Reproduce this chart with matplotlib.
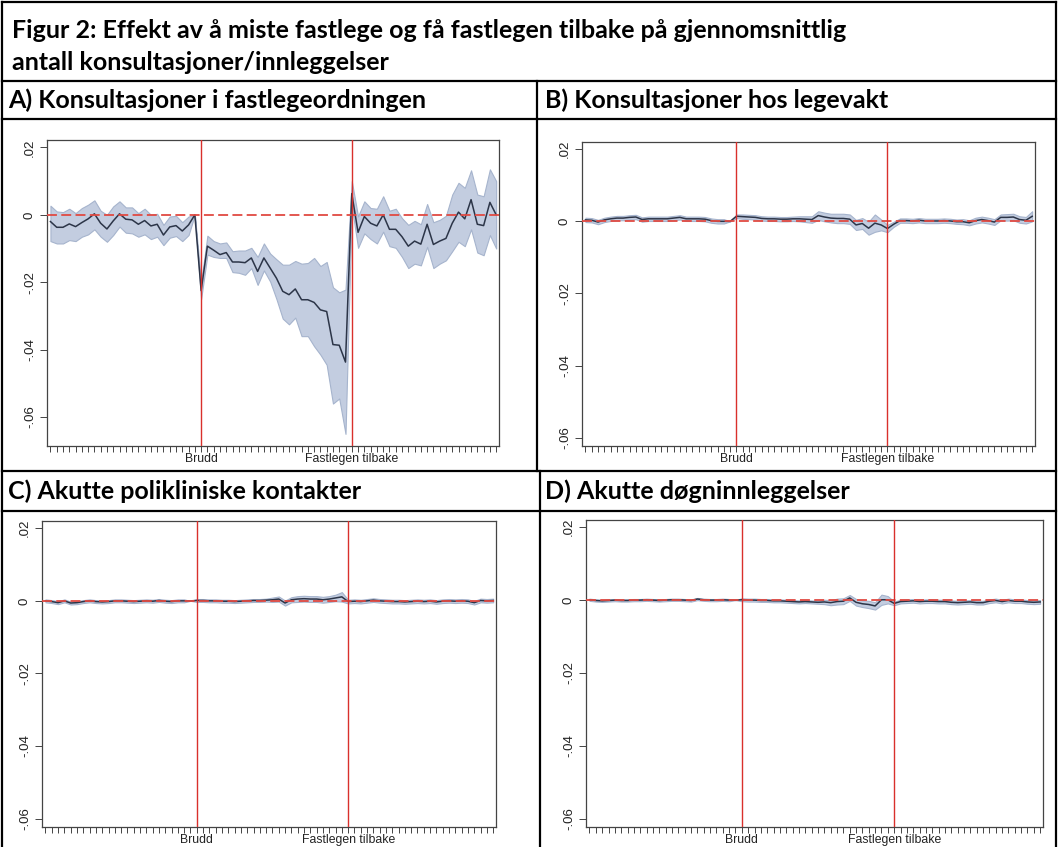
import matplotlib
matplotlib.use("Agg")
import matplotlib.pyplot as plt
from matplotlib.lines import Line2D
import numpy as np

W, H = 1059, 847

# periods: -24 .. 47, Brudd at 0, Fastlegen tilbake at 24
periods = np.arange(-24, 48)
brudd = 0
tilbake = 24

title_lines = ["Figur 2: Effekt av å miste fastlege og få fastlegen tilbake på gjennomsnittlig",
               "antall konsultasjoner/innleggelser"]
panel_titles = ["A) Konsultasjoner i fastlegeordningen", "B) Konsultasjoner hos legevakt",
                "C) Akutte polikliniske kontakter", "D) Akutte døgninnleggelser"]
ytick_vals = [0.02, 0.0, -0.02, -0.04, -0.06]
ytick_labels = [".02", "0", "-.02", "-.04", "-.06"]
xtick_labels = {0: "Brudd", 24: "Fastlegen tilbake"}

# A) estimate with lower/upper confidence limits
est_a = [-0.0020, -0.0037, -0.0037, -0.0027, -0.0035, -0.0023, -0.0012, 0.0003, -0.0025, -0.0042,
         -0.0018, 0.0003, -0.0013, -0.0015, -0.0028, -0.0017, -0.0033, -0.0028, -0.0060, -0.0036,
         -0.0032, -0.0048, -0.0030, 0.0,
         -0.0225, -0.0093, -0.0105, -0.0118, -0.0112, -0.0140, -0.0140, -0.0142, -0.0128, -0.0168,
         -0.0128, -0.0158, -0.0188, -0.0227, -0.0237, -0.0220, -0.0252, -0.0252, -0.0260, -0.0282,
         -0.0287, -0.0385, -0.0387, -0.0437,
         0.0063, -0.0052, -0.0005, -0.0025, -0.0033, 0.0, -0.0043, -0.0043, -0.0065, -0.0093,
         -0.0078, -0.0087, -0.0028, -0.0088, -0.0078, -0.0070, -0.0025, 0.0008, -0.0012, 0.0045,
         -0.0028, -0.0032, 0.0037, 0.0]
hi_a = [0.0027, 0.0010, 0.0008, 0.0018, 0.0005, 0.0020, 0.0030, 0.0043, 0.0012, 0.0,
        0.0025, 0.0040, 0.0022, 0.0022, 0.0005, 0.0018, 0.0, 0.0003, -0.0030, -0.0005,
        -0.0003, -0.0022, -0.0005, 0.0,
        -0.0200, -0.0062, -0.0078, -0.0085, -0.0082, -0.0108, -0.0106, -0.0106, -0.0098, -0.0125,
        -0.0085, -0.0115, -0.0132, -0.0148, -0.0148, -0.0137, -0.0145, -0.0143, -0.0128, -0.0152,
        -0.0140, -0.0215, -0.0230, -0.0222,
        0.0100, -0.0005, 0.0040, 0.0020, 0.0018, 0.0055, 0.0012, 0.0018, -0.0010, -0.0030,
        -0.0018, -0.0028, 0.0032, -0.0022, -0.0015, -0.0003, 0.0060, 0.0095, 0.0080, 0.0132,
        0.0060, 0.0055, 0.0135, 0.0100]
lo_a = [-0.0078, -0.0085, -0.0085, -0.0075, -0.0078, -0.0065, -0.0058, -0.0043, -0.0065, -0.0080,
        -0.0060, -0.0035, -0.0053, -0.0055, -0.0065, -0.0058, -0.0072, -0.0065, -0.0090, -0.0068,
        -0.0063, -0.0078, -0.0060, 0.0,
        -0.0250, -0.0118, -0.0125, -0.0128, -0.0128, -0.0170, -0.0172, -0.0178, -0.0158, -0.0208,
        -0.0165, -0.0198, -0.0250, -0.0308, -0.0325, -0.0305, -0.0360, -0.0360, -0.0390, -0.0415,
        -0.0445, -0.0560, -0.0545, -0.0650,
        0.0025, -0.0098, -0.0055, -0.0072, -0.0085, -0.0050, -0.0093, -0.0098, -0.0125, -0.0158,
        -0.0145, -0.0150, -0.0095, -0.0158, -0.0145, -0.0135, -0.0108, -0.0080, -0.0093, -0.0043,
        -0.0112, -0.0120, -0.0060, -0.0100]

# B, C, D) estimate and half width of the confidence band
est_b = [0.0004, 0.0003, -0.0002, 0.0004, 0.0007, 0.0009, 0.0009, 0.0011, 0.0012, 0.0005,
         0.0007, 0.0007, 0.0007, 0.0007, 0.0009, 0.0011, 0.0007, 0.0007, 0.0007, 0.0006,
         0.0002, 0.0, 0.0, 0.0,
         0.0014, 0.0013, 0.0012, 0.0011, 0.0008, 0.0007, 0.0007, 0.0006, 0.0006, 0.0007,
         0.0007, 0.0006, 0.0005, 0.0016, 0.0012, 0.0009, 0.0008, 0.0008, 0.0006, -0.0010,
         -0.0006, -0.0019, -0.0005, -0.0010,
         -0.0020, -0.0008, 0.0002, 0.0002, 0.0001, 0.0003, 0.0001, 0.0001, 0.0001, 0.0002,
         0.0001, -0.0001, -0.0001, -0.0004, 0.0002, 0.0005, 0.0002, -0.0002, 0.0011, 0.0011,
         0.0012, 0.0005, 0.0003, 0.0014]
half_b = [0.0006] * 23 + [0.0] + \
         [0.0005, 0.0006, 0.0006, 0.0006, 0.0006, 0.0006, 0.0006, 0.0006, 0.0006, 0.0006,
          0.0007, 0.0008, 0.0009, 0.0012, 0.0012, 0.0012, 0.0013, 0.0013, 0.0013, 0.0014,
          0.0015, 0.0018, 0.0024, 0.0015,
          0.0010, 0.0007, 0.0006, 0.0006, 0.0006, 0.0006, 0.0006, 0.0006, 0.0006, 0.0006,
          0.0006, 0.0006, 0.0007, 0.0007, 0.0008, 0.0008, 0.0008, 0.0008, 0.0008, 0.0009,
          0.0009, 0.0009, 0.0009, 0.0014]

est_c = [0.0, -0.0002, -0.0005, 0.0, -0.0006, -0.0005, -0.0002, 0.0, -0.0002, -0.0003,
         -0.0002, 0.0, 0.0, -0.0001, -0.0002, -0.0001, 0.0, -0.0001, 0.0001, -0.0001,
         -0.0002, 0.0, 0.0, 0.0,
         0.0001, 0.0001, 0.0, 0.0, -0.0001, -0.0001, -0.0002, -0.0001, 0.0, 0.0001,
         0.0001, 0.0002, 0.0003, 0.0005, -0.0006, 0.0003, 0.0005, 0.0006, 0.0005, 0.0005,
         0.0003, 0.0005, 0.0008, 0.0011,
         -0.0002, -0.0001, -0.0002, 0.0, 0.0002, 0.0, -0.0001, -0.0002, -0.0002, -0.0003,
         -0.0002, -0.0001, -0.0002, -0.0001, -0.0003, -0.0001, 0.0, -0.0001, 0.0, -0.0001,
         -0.0005, 0.0001, 0.0, 0.0001]
half_c = [0.0004] * 23 + [0.0] + [0.0004] * 12 + \
         [0.0006, 0.0007, 0.0007, 0.0007, 0.0008, 0.0008, 0.0008, 0.0008, 0.0008, 0.0008,
          0.0009, 0.0013] + [0.0005] * 24

est_d = [0.0001, -0.0001, -0.0002, -0.0001, 0.0, -0.0001, -0.0001, 0.0, 0.0, 0.0001,
         0.0, -0.0001, 0.0, 0.0001, 0.0001, 0.0, -0.0001, 0.0003, 0.0001, 0.0,
         0.0, 0.0001, 0.0, 0.0,
         0.0001, 0.0, 0.0, -0.0001, -0.0001, -0.0002, -0.0002, -0.0003, -0.0004, -0.0005,
         -0.0004, -0.0005, -0.0006, -0.0005, -0.0007, -0.0004, -0.0003, 0.0006, -0.0006, -0.0010,
         -0.0012, -0.0016, 0.0001, 0.0001,
         -0.0009, -0.0004, -0.0003, -0.0002, -0.0004, -0.0003, -0.0003, -0.0004, -0.0004, -0.0006,
         -0.0007, -0.0006, -0.0005, -0.0007, -0.0007, -0.0003, -0.0001, -0.0004, -0.0001, -0.0003,
         -0.0003, -0.0005, -0.0006, -0.0005]
half_d = [0.0003] * 23 + [0.0] + [0.0004] * 13 + \
         [0.0006, 0.0007, 0.0008, 0.0008, 0.0008, 0.0009, 0.0009, 0.0010, 0.0010, 0.0014,
          0.0010] + [0.0005] * 24

band_col = "#c3cde0"
band_edge = "#a6b4cd"
line_col = "#2c3548"
red = "#d9302c"
plt.rcParams["font.family"] = ["Liberation Sans", "DejaVu Sans"]

fig = plt.figure(figsize=(W / 100, H / 100), dpi=100)


def px_axes(l, t, r, b):
    return fig.add_axes([l / W, 1 - b / H, (r - l) / W, (b - t) / H])


def panel(box, est, lo, hi, ylim):
    ax = px_axes(*box)
    ax.fill_between(periods, lo, hi, color=band_col, edgecolor=band_edge, lw=0.8, zorder=1)
    ax.plot(periods, est, color=line_col, lw=1.1, zorder=3)
    ax.axhline(0, color="#e04a42", lw=1.3, dashes=(5.5, 2.4), zorder=4)
    for v in (brudd, tilbake):
        ax.axvline(v, color=red, lw=1.0, zorder=5)
    ax.set_xlim(-24.55, 47.45)
    ax.set_ylim(*ylim)
    ax.set_xticks(periods)
    ax.set_xticklabels([xtick_labels.get(int(p), "") for p in periods], fontsize=8.8, color="#222")
    ax.set_yticks(ytick_vals)
    ax.set_yticklabels(ytick_labels, rotation=90, va="center", fontsize=9.5, color="#222")
    ax.tick_params(axis="x", length=4, width=0.7, color="#444", pad=1)
    ax.tick_params(axis="y", length=5, width=0.7, color="#444", pad=3)
    for s in ax.spines.values():
        s.set_color("#444")
        s.set_linewidth(0.9)
    return ax


est_b, est_c, est_d = np.array(est_b), np.array(est_c), np.array(est_d)
half_b, half_c, half_d = np.array(half_b), np.array(half_c), np.array(half_d)

panel((47, 140, 499, 446), est_a, lo_a, hi_a, (-0.0686, 0.0222))
panel((582, 142, 1035, 446), est_b, est_b - half_b, est_b + half_b, (-0.0623, 0.0220))
panel((42, 521, 496, 827), est_c, est_c - half_c, est_c + half_c, (-0.0623, 0.0220))
panel((586, 520, 1043, 827), est_d, est_d - half_d, est_d + half_d, (-0.0623, 0.0220))

# heading texts, sized so the first title line spans like the original
head_font = dict(family=["Lato", "DejaVu Sans"], weight="bold", color="black", va="center")
t0 = fig.text(12 / W, 1 - 30 / H, title_lines[0], fontsize=16, **head_font)
rend = fig.canvas.get_renderer()
size = 16 * 834 / t0.get_window_extent(rend).width
t0.set_fontsize(size)
fig.text(12 / W, 1 - 62 / H, title_lines[1], fontsize=size, **head_font)
fig.text(8 / W, 1 - 100 / H, panel_titles[0], fontsize=size, **head_font)
fig.text(545 / W, 1 - 100 / H, panel_titles[1], fontsize=size, **head_font)
fig.text(8 / W, 1 - 491 / H, panel_titles[2], fontsize=size, **head_font)
fig.text(545 / W, 1 - 491 / H, panel_titles[3], fontsize=size, **head_font)

# table rules
def rule(x0, y0, x1, y1):
    fig.add_artist(Line2D([x0 / W, x1 / W], [1 - y0 / H, 1 - y1 / H], color="black", lw=1.6))

rule(2, 2, 1056, 2)
rule(2, 81, 1056, 81)
rule(2, 119, 1056, 119)
rule(2, 471, 1056, 471)
rule(2, 511, 1056, 511)
rule(2, 2, 2, 847)
rule(1056, 2, 1056, 847)
rule(537, 81, 537, 471)
rule(540, 471, 540, 847)

fig.savefig("out.png", dpi=100, facecolor="white")
